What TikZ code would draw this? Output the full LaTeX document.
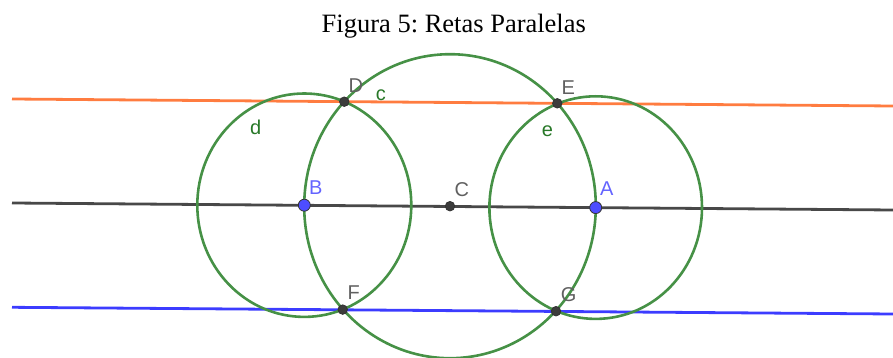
\documentclass[tikz,border=0pt]{standalone}
\usepackage{fontspec}
\setmainfont{Liberation Serif}
\newfontfamily\lblfont{Liberation Sans}
\frenchspacing
\definecolor{ggorange}{RGB}{255,124,64}
\definecolor{gggreen}{RGB}{70,145,70}
\definecolor{ggblue}{RGB}{60,60,255}
\definecolor{ggline}{RGB}{72,72,72}
\definecolor{ggpt}{RGB}{60,60,60}
\definecolor{ggbluept}{RGB}{77,77,255}
\definecolor{gglabel}{RGB}{96,96,96}
\definecolor{ggbluelabel}{RGB}{100,100,255}
\definecolor{gggreenlabel}{RGB}{40,120,40}
\tikzset{
  pt/.style={circle,draw=black!80,line width=0.8pt,fill=ggpt,inner sep=0pt,minimum size=9.5pt},
  bpt/.style={circle,draw=black!80,line width=0.8pt,fill=ggbluept,inner sep=0pt,minimum size=12pt},
  lbl/.style={anchor=base west,inner sep=0pt,font=\lblfont\fontsize{20}{20}\selectfont,text=gglabel},
  blbl/.style={lbl,text=ggbluelabel},
  glbl/.style={lbl,text=gggreenlabel},
  circ/.style={draw=gggreen,line width=2.6pt},
  rline/.style={line width=2.8pt}
}
\begin{document}
\begin{tikzpicture}[x=1pt,y=-1pt]
\useasboundingbox (0,0) rectangle (893,358);
\node[anchor=base,inner sep=0pt,font=\fontsize{26.5}{27}\selectfont] (title) at (453.8,33) {Figura 5: Retas Paralelas};
% line end points
\coordinate (o1) at (12,99.0);
\coordinate (o2) at (893,106.0);
\coordinate (k1) at (12,203.0);
\coordinate (k2) at (893,210.0);
\coordinate (b1) at (12,307.3);
\coordinate (b2) at (893,314.0);
% centres
\coordinate (Bc) at (304.3,205.2);
\coordinate (Cc) at (450,206.2);
\coordinate (Ac) at (595.7,207.6);
% lines
\draw[rline,ggorange] (o1) -- (o2);
\draw[rline,ggline] (k1) -- (k2);
\draw[rline,ggblue] (b1) -- (b2);
% circles
\draw[circ] (Bc) ellipse [x radius=107, y radius=111.7];
\draw[circ] (Ac) ellipse [x radius=106.3, y radius=111.3];
\draw[circ] (Cc) ellipse [x radius=145.8, y radius=152];
% points
\node[pt] (D) at (344.3,101.7) {};
\node[pt] (E) at (557.3,103.3) {};
\node[pt] (C) at (450,206.2) {};
\node[pt] (F) at (342.7,309.6) {};
\node[pt] (G) at (556,311.2) {};
\node[bpt] (B) at (304.3,205.2) {};
\node[bpt] (A) at (595.7,207.6) {};
% labels
\node[lbl] (Dl) at (348.3,92.3) {D};
\node[lbl] (El) at (561.3,94.3) {E};
\node[lbl] (Cl) at (454.3,196.7) {C};
\node[lbl] (Fl) at (347.3,299.3) {F};
\node[lbl] (Gl) at (560.7,301.7) {G};
\node[blbl] (Bl) at (309,194) {B};
\node[blbl] (Al) at (600,195.3) {A};
\node[glbl] (cl) at (375.7,100.7) {c};
\node[glbl] (dl) at (250,135) {d};
\node[glbl] (el) at (541.7,136.7) {e};
\end{tikzpicture}
\end{document}
